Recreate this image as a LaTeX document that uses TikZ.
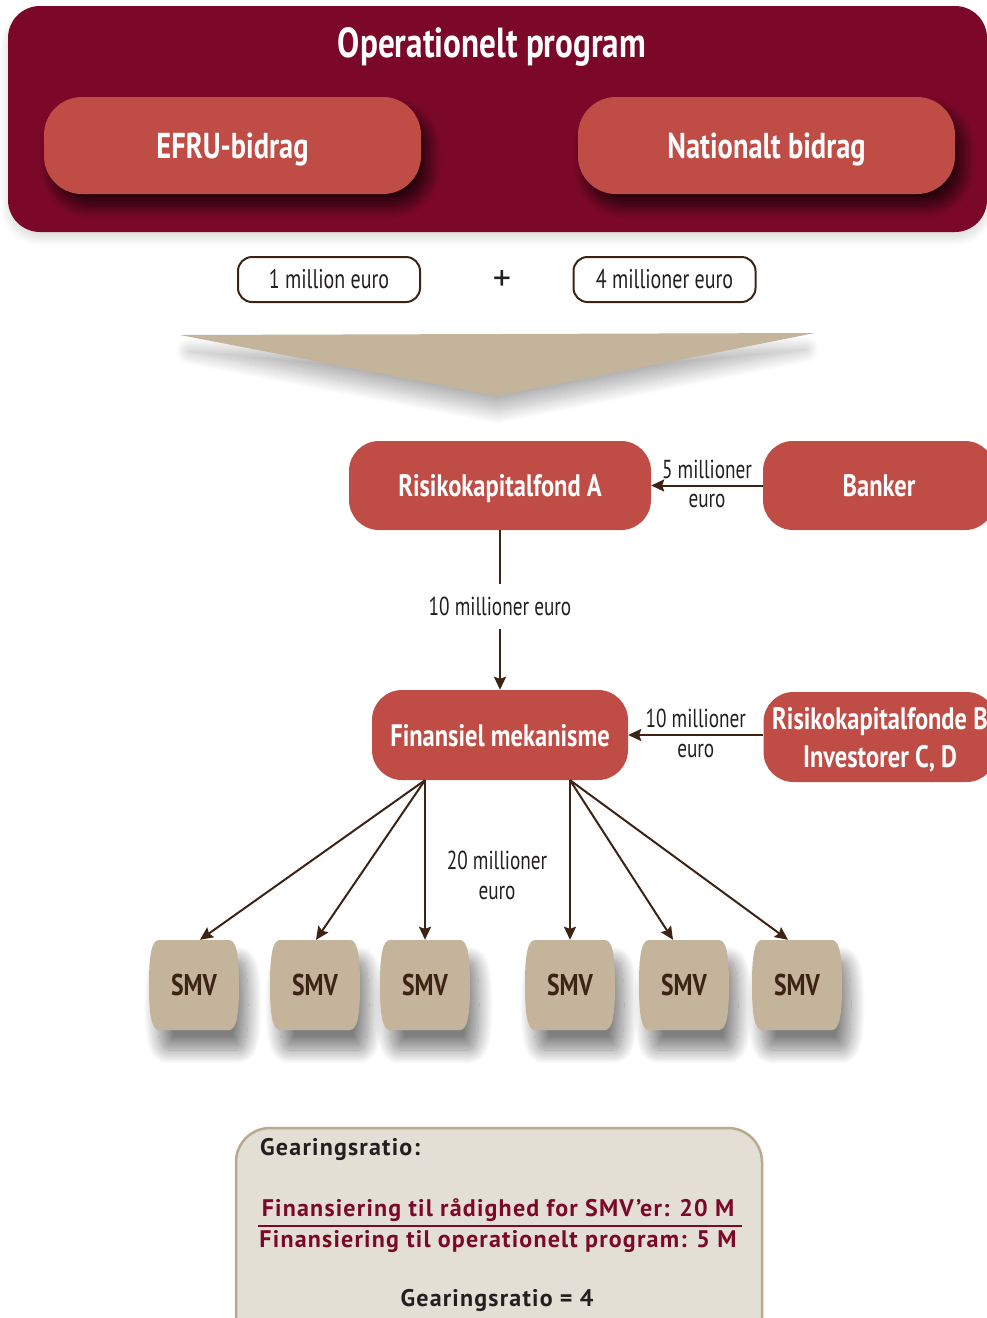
\documentclass[tikz,border=0pt]{standalone}
\usepackage{fontspec}
\setmainfont{PT Sans}
\newfontfamily\cond[FakeStretch=0.74]{PT Sans}
\newfontfamily\condb[FakeStretch=0.79]{PT Sans Bold}
\newfontfamily\spaced[LetterSpace=5]{PT Sans}
\usetikzlibrary{shadows.blur,arrows.meta,calc,backgrounds}

\definecolor{progred}{RGB}{123,8,41}
\definecolor{boxred}{RGB}{192,76,70}
\definecolor{tan}{RGB}{196,180,155}
\definecolor{darkbrown}{RGB}{61,35,20}
\definecolor{notefill}{RGB}{227,223,212}
\definecolor{noteline}{RGB}{184,170,142}
\definecolor{inktext}{RGB}{35,31,32}

\tikzset{
  redbox/.style={fill=boxred, text=white, rounded corners=30pt, align=center,
    font=\condb\fontsize{31}{36}\selectfont, inner sep=0pt, text depth=0pt},
  inshadow/.style={blur shadow={shadow xshift=8pt, shadow yshift=-12pt,
    shadow blur radius=12pt, shadow blur steps=20, shadow opacity=70}},
  amount/.style={draw=darkbrown, line width=2pt, fill=white, rounded corners=14pt,
    minimum width=182pt, minimum height=45pt, inner sep=0pt,
    font=\cond\fontsize{27}{30}\selectfont, text=inktext},
  flow/.style={draw=darkbrown, line width=2pt,
    -{Stealth[length=13pt,width=12pt,inset=2pt]}},
  lbl/.style={font=\cond\fontsize{26}{30}\selectfont, text=inktext, inner sep=1pt},
  smvtext/.style={minimum width=88pt, minimum height=90pt, inner sep=0pt, text depth=0pt,
    font=\condb\fontsize{30}{36}\selectfont, text=darkbrown},
  smvshadow/.style={blur shadow={shadow xshift=9pt, shadow yshift=-20pt,
    shadow blur radius=14pt, shadow blur steps=24, shadow opacity=50}},
  notetext/.style={font=\spaced\bfseries\fontsize{24}{28}\selectfont, inner sep=0pt}
}

% a barrel-shaped SMV block centred at x = #2
\newcommand\smvblock[2]{%
  \fill[tan, smvshadow] (#2-35,940) -- (#2+35,940)
    .. controls (#2+43,940) and (#2+45,958) .. (#2+45,985)
    .. controls (#2+45,1012) and (#2+43,1030) .. (#2+35,1030)
    -- (#2-35,1030)
    .. controls (#2-43,1030) and (#2-45,1012) .. (#2-45,985)
    .. controls (#2-45,958) and (#2-43,940) .. (#2-35,940) -- cycle;
  \node[smvtext] (#1) at (#2,985) {SMV};}

\begin{document}
\begin{tikzpicture}[x=1pt,y=-1pt]
\useasboundingbox (0,0) rectangle (987,1318);

% operational programme
\node[fill=progred, rounded corners=32pt, minimum width=979pt, minimum height=226pt,
  inner sep=0pt, blur shadow={shadow xshift=0pt, shadow yshift=-6pt, shadow blur radius=8pt,
  shadow blur steps=16, shadow opacity=15}]
  (prog) at (497.5,119) {};
\node[text=white, font=\condb\fontsize{42}{48}\selectfont] (title) at (492,47) {Operationelt program};
\node[redbox, rounded corners=38pt, minimum width=377pt, minimum height=97pt,
  font=\condb\fontsize{36}{40}\selectfont, inshadow] (efru) at (232.5,145.5) {EFRU-bidrag};
\node[redbox, rounded corners=38pt, minimum width=377pt, minimum height=97pt,
  font=\condb\fontsize{36}{40}\selectfont, inshadow] (nat) at (766.5,145.5) {Nationalt bidrag};

% contributions
\node[amount] (a1) at (329,279.5) {1 million euro};
\node[font=\fontsize{36}{36}\selectfont, text=inktext] (plus) at (502,281) {+};
\node[amount] (a2) at (664.5,279.5) {4 millioner euro};

% merging arrow
\fill[tan, blur shadow={shadow xshift=0pt, shadow yshift=-16pt, shadow scale=0.97,
  shadow blur radius=14pt, shadow blur steps=24, shadow opacity=30}]
  (180,335) -- (815,333) -- (497,396) -- cycle;

% funds
\node[redbox, minimum width=302pt, minimum height=89pt] (fundA) at (500,485.5) {Risikokapitalfond A};
\node[redbox, minimum width=232pt, minimum height=89pt] (bank) at (879,485.5) {Banker};
\node[redbox, minimum width=256pt, minimum height=90pt] (mech) at (500,735) {Finansiel mekanisme};
\node[redbox, minimum width=233pt, minimum height=90pt,
  font=\condb\fontsize{31}{38}\selectfont] (fundB) at (880,737) {Risikokapitalfonde B\\Investorer C, D};

\draw[flow] (bank.west) -- (fundA.east)
  node[lbl, midway, above=5pt] {5 millioner}
  node[lbl, midway, below=7pt] {euro};
\draw[flow] (fundA.south) -- (mech.north)
  node[lbl, pos=0.48, fill=white, inner ysep=13pt] {10 millioner euro};
\draw[flow] (fundB.west |- mech.east) -- (mech.east)
  node[lbl, midway, above=5pt] {10 millioner}
  node[lbl, midway, below=7pt] {euro};

% small and medium-sized enterprises
\begin{scope}[on background layer]
\smvblock{s1}{194}
\smvblock{s2}{315}
\smvblock{s3}{425}
\smvblock{s4}{570}
\smvblock{s5}{684}
\smvblock{s6}{797}
\end{scope}

\coordinate (mL) at (mech.south -| s3.north);
\coordinate (mR) at (mech.south -| s4.north);
\draw[flow] (mL) -- ($(s1.north)+(6,0)$);
\draw[flow] (mL) -- ($(s2.north)+(1,0)$);
\draw[flow] (mL) -- (s3.north);
\draw[flow] (mR) -- (s4.north);
\draw[flow] (mR) -- ($(s5.north)+(-11,0)$);
\draw[flow] (mR) -- ($(s6.north)+(-9,0)$);
\node[lbl] (l20a) at (497,860) {20 millioner};
\node[lbl] (l20b) at (497,893) {euro};

% gearing ratio note
\draw[fill=notefill, draw=noteline, line width=2.5pt, rounded corners=34pt]
  (236,1128) rectangle (762,1360);
\node[notetext, anchor=west, text=inktext] (ghead) at (260,1149) {Gearingsratio:};
\node[notetext, text=progred] (num) at (498,1210) {Finansiering til rådighed for SMV’er: 20 M};
\node[notetext, text=progred] (den) at (498,1241) {Finansiering til operationelt program: 5 M};
\draw[progred, line width=1.2pt] (258,1226) -- (742,1226);
\node[notetext, text=inktext] (res) at (497,1300) {Gearingsratio = 4};
\end{tikzpicture}
\end{document}
